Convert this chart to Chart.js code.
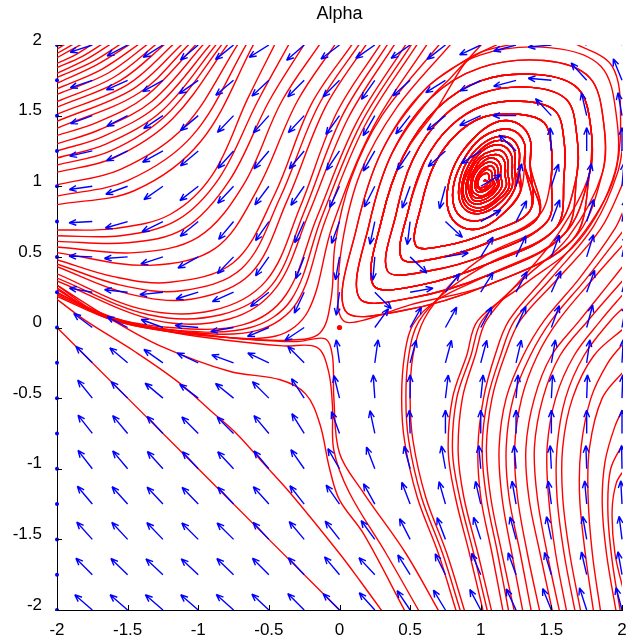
<!DOCTYPE html>
<html>
<head>
<meta charset="utf-8">
<script src="https://cdn.jsdelivr.net/npm/chart.js@4.4.0/dist/chart.umd.min.js"></script>
<style>
  html, body { margin: 0; padding: 0; background: #fff; }
  #wrap { width: 641px; height: 641px; }
</style>
</head>
<body>
<div id="wrap"><canvas id="phase" width="641" height="641"></canvas></div>
<script>
// phase portrait "Alpha": red streamlines + blue direction arrows

const tickVals = [-2, -1.5, -1, -0.5, 0, 0.5, 1, 1.5, 2];
const gridX = [-2, -1.75, -1.5, -1.25, -1, -0.75, -0.5, -0.25, 0, 0.25, 0.5, 0.75, 1, 1.25, 1.5, 1.75, 2];
const gridY = [2, 1.75, 1.5, 1.25, 1, 0.75, 0.5, 0.25, 0, -0.25, -0.5, -0.75, -1, -1.25, -1.5, -1.75, -2];

// arrow direction in degrees (0 = right, 90 = up), one row per gridY, null = dot
const arrowAngle = [
  [null,198,208,212,220,219,212,221,217,215,215,218,205,195,185,160,130],
  [null,199,204,209,215,220,223,225,225,235,222,212,207,195,175,132,112],
  [null,200,207,214,220,226,228,227,234,240,232,218,205,180,133,103,100],
  [null,193,205,209,220,228,230,230,236,240,236,222,213,137,93,90,90],
  [null,188,200,215,218,227,233,235,245,243,250,255,30,76,72,78,85],
  [null,183,196,206,219,230,235,246,250,258,263,317,30,63,69,72,80],
  [null,178,184,198,209,226,235,249,260,265,316,10,58,65,70,73,78],
  [null,170,174,186,197,204,218,245,262,315,10,53,58,62,66,70,75],
  [null,143,152,160,175,190,203,214,null,54,61,61,62,65,70,75,80],
  [null,135,140,145,155,160,155,135,98,82,75,75,75,77,80,82,87],
  [null,129,135,140,143,141,135,123,104,94,90,83,84,85,87,88,88],
  [null,128,130,133,135,135,130,122,110,102,92,90,90,90,90,90,90],
  [null,128,130,132,133,133,130,125,120,111,105,100,95,95,93,92,91],
  [null,130,132,133,134,133,132,128,125,119,111,106,103,100,98,95,93],
  [null,132,133,134,135,135,133,130,128,126,117,111,108,105,102,100,97],
  [null,135,136,137,137,136,135,133,130,133,122,116,113,110,107,103,100],
  [null,139,139,139,139,138,137,135,135,132,124,121,118,115,112,108,105]
];

const fixedPoints = [[0, 0]];

// top-left family: from the top edge to the left edge
const topLeftLines = [
  [[-1.92,2.02],[-2,1.97]],
  [[-1.86,2.02],[-2,1.94]],
  [[-1.8,2.02],[-2,1.91]],
  [[-1.73,2.02],[-1.87,1.93],[-2,1.87]],
  [[-1.66,2.02],[-1.82,1.92],[-2,1.84]],
  [[-1.6,2.02],[-1.79,1.9],[-2,1.8]],
  [[-1.53,2.02],[-1.75,1.88],[-2,1.77]],
  [[-1.46,2.02],[-1.72,1.86],[-2,1.73]],
  [[-1.4,2.02],[-1.68,1.83],[-2,1.69]],
  [[-1.34,2.02],[-1.64,1.8],[-2,1.65]],
  [[-1.28,2.02],[-1.6,1.77],[-2,1.6]],
  [[-1.22,2.02],[-1.55,1.75],[-2,1.56]],
  [[-1.16,2.02],[-1.5,1.72],[-2,1.51]],
  [[-1.1,2.02],[-1.46,1.69],[-2,1.46]],
  [[-1.05,2.02],[-1.42,1.66],[-2,1.41]],
  [[-1.0,2.02],[-1.38,1.63],[-1.72,1.45],[-2,1.36]],
  [[-0.95,2.02],[-1.33,1.6],[-1.7,1.4],[-2,1.3]],
  [[-0.9,2.02],[-1.29,1.57],[-1.68,1.35],[-2,1.25]],
  [[-0.86,2.02],[-1.25,1.54],[-1.65,1.3],[-2,1.2]],
  [[-0.82,2.02],[-1.22,1.51],[-1.62,1.25],[-2,1.15]],
  [[-0.78,2.02],[-1.18,1.48],[-1.6,1.2],[-2,1.1]],
  [[-0.71,2.02],[-1.1,1.42],[-1.55,1.12],[-2,1.01]],
  [[-0.65,2.02],[-1.04,1.36],[-1.5,1.04],[-2,0.93]],
  [[-0.6,2.02],[-0.98,1.32],[-1.45,0.97],[-2,0.87]]
];

// diagonal band: from the top edge down past the saddle, out to the left
const bandLines = [
  [[-0.45,2.02],[-0.65,1.62],[-0.9,1.08],[-1.2,0.8],[-1.6,0.7],[-2,0.69]],
  [[-0.35,2.02],[-0.58,1.6],[-0.85,1.06],[-1.15,0.76],[-1.55,0.65],[-2,0.65]],
  [[-0.24,2.02],[-0.5,1.6],[-0.78,1.04],[-1.1,0.7],[-1.5,0.6],[-2,0.61]],
  [[-0.13,2.02],[-0.41,1.6],[-0.68,1.01],[-1.0,0.64],[-1.45,0.53],[-2,0.57]],
  [[-0.02,2.02],[-0.3,1.6],[-0.58,0.98],[-0.88,0.56],[-1.35,0.44],[-2,0.53]],
  [[0.1,2.02],[-0.2,1.58],[-0.46,0.94],[-0.75,0.46],[-1.2,0.32],[-1.6,0.36],[-2,0.48]],
  [[0.15,2.02],[-0.15,1.57],[-0.42,0.92],[-0.69,0.42],[-1.12,0.26],[-1.55,0.3],[-2,0.45]],
  [[0.2,2.02],[-0.1,1.56],[-0.37,0.9],[-0.63,0.38],[-1.05,0.2],[-1.5,0.24],[-2,0.43]],
  [[0.3,2.02],[-0.02,1.52],[-0.28,0.85],[-0.52,0.33],[-0.9,0.12],[-1.4,0.13],[-2,0.38]],
  [[0.35,2.02],[0.02,1.5],[-0.25,0.82],[-0.48,0.3],[-0.84,0.09],[-1.35,0.09],[-2,0.35]],
  [[0.4,2.02],[0.06,1.48],[-0.22,0.8],[-0.45,0.28],[-0.78,0.06],[-1.3,0.05],[-2,0.33]],
  [[0.48,2.02],[0.12,1.45],[-0.16,0.78],[-0.38,0.23],[-0.68,0.02],[-1.2,0.0],[-1.7,0.1],[-2,0.3]],
  [[0.52,2.02],[0.15,1.44],[-0.13,0.77],[-0.34,0.2],[-0.63,0.0],[-1.15,-0.02],[-1.68,0.08],[-2,0.28]],
  [[0.56,2.02],[0.18,1.43],[-0.1,0.76],[-0.3,0.18],[-0.58,-0.02],[-1.1,-0.03],[-1.65,0.07],[-2,0.27]],
  [[0.63,2.02],[0.24,1.42],[-0.05,0.72],[-0.22,0.12],[-0.45,-0.06],[-1.0,-0.05],[-1.6,0.05],[-2,0.25]],
  [[0.72,2.02],[0.3,1.5],[0.08,1.05],[-0.03,0.6],[-0.06,0.2],[-0.14,-0.04],[-0.37,-0.09],[-0.8,-0.07],[-1.2,-0.03],[-1.6,0.05],[-2,0.22]]
];

// from the bottom edge, turning left near the saddle
const lowerLeftLines = [
  [[0,-2],[-1,-1],[-2,0]],
  [[0.31,-2.02],[0.15,-1.8],[0,-1.6],[-0.35,-1.17],[-0.54,-0.96],[-0.73,-0.75],[-0.9,-0.6],[-1.15,-0.38],[-1.45,-0.17],[-1.8,0.05],[-2,0.2]],
  [[0.47,-2.02],[0.17,-1.46],[0.0,-1.22],[-0.07,-1.0],[-0.14,-0.68],[-0.24,-0.47],[-0.42,-0.37],[-0.78,-0.31],[-1.27,-0.13],[-1.62,0.06],[-2,0.3]],
  [[0.57,-2.02],[0.33,-1.6],[0.07,-1.17],[-0.04,-0.87],[-0.05,-0.55],[-0.08,-0.3],[-0.16,-0.14],[-0.4,-0.13],[-0.8,-0.09],[-1.2,-0.03],[-1.6,0.07],[-2,0.24]],
  [[0.71,-2.02],[0.47,-1.6],[0.17,-1.17],[0.0,-0.89],[-0.04,-0.5],[-0.05,-0.2],[-0.1,-0.08],[-0.3,-0.1],[-0.7,-0.08],[-1.1,-0.03],[-1.6,0.06],[-2,0.23]]
];

// from the bottom edge, up the right side and out of the frame
const rightLines = [
  [[1.16,-2.02],[1.08,-1.6],[1.0,-1.2],[0.98,-0.85],[1.02,-0.5],[1.1,-0.2],[1.2,0.05],[1.45,0.35],[1.75,0.7],[1.94,1.05],[1.99,1.45],[1.93,1.85],[1.65,2.02]],
  [[1.2,-2.02],[1.12,-1.6],[1.04,-1.2],[1.01,-0.85],[1.05,-0.5],[1.14,-0.2],[1.24,0.05],[1.5,0.35],[1.8,0.72],[1.97,1.1],[2.02,1.4]],
  [[1.24,-2.02],[1.15,-1.6],[1.07,-1.2],[1.04,-0.85],[1.08,-0.5],[1.17,-0.2],[1.28,0.05],[1.55,0.35],[1.85,0.7],[2.02,1.05]],
  [[1.3,-2.02],[1.22,-1.6],[1.15,-1.2],[1.13,-0.85],[1.18,-0.5],[1.3,-0.2],[1.45,0.05],[1.7,0.35],[1.95,0.7],[2.02,0.85]],
  [[1.36,-2.02],[1.28,-1.6],[1.2,-1.2],[1.18,-0.85],[1.23,-0.5],[1.35,-0.2],[1.5,0.05],[1.75,0.35],[2.02,0.7]],
  [[1.42,-2.02],[1.33,-1.6],[1.26,-1.2],[1.24,-0.85],[1.29,-0.5],[1.4,-0.2],[1.55,0.05],[1.8,0.35],[2.02,0.6]],
  [[1.51,-2.02],[1.42,-1.6],[1.34,-1.2],[1.32,-0.85],[1.38,-0.5],[1.5,-0.2],[1.7,0.05],[1.9,0.3],[2.02,0.45]],
  [[1.56,-2.02],[1.47,-1.6],[1.4,-1.2],[1.38,-0.85],[1.44,-0.5],[1.56,-0.2],[1.76,0.05],[2.02,0.35]],
  [[1.61,-2.02],[1.53,-1.6],[1.48,-1.2],[1.47,-0.85],[1.53,-0.5],[1.66,-0.2],[1.85,0.05],[2.02,0.25]],
  [[1.67,-2.02],[1.59,-1.6],[1.54,-1.2],[1.54,-0.85],[1.6,-0.5],[1.73,-0.2],[1.92,0.05],[2.02,0.15]],
  [[1.71,-2.02],[1.63,-1.6],[1.58,-1.2],[1.58,-0.85],[1.65,-0.5],[1.8,-0.2],[2.02,0.0]],
  [[1.8,-2.02],[1.74,-1.6],[1.7,-1.2],[1.71,-0.85],[1.78,-0.5],[1.9,-0.25],[2.02,-0.1]],
  [[1.85,-2.02],[1.79,-1.6],[1.76,-1.2],[1.77,-0.85],[1.86,-0.5],[2.02,-0.3]],
  [[1.96,-2.02],[1.89,-1.6],[1.86,-1.25],[1.88,-0.95],[1.95,-0.7],[2.02,-0.55]],
  [[1.99,-2.02],[1.93,-1.65],[1.9,-1.3],[1.92,-1.0],[2.02,-0.8]],
  [[2.02,-1.9],[1.95,-1.6],[1.93,-1.3],[1.96,-1.1],[2.02,-1.0]]
];

// loops around the focus near (1,1), outer to inner, counter-clockwise from the right side
const ring1 = [[1.95,1.1],[1.96,1.5],[1.85,1.85],[1.5,1.98],[1.0,1.93],[0.6,1.68],[0.3,1.25],[0.12,0.7],[0.04,0.12],[0.45,0.12],[1.05,0.3],[1.65,0.62]];
const ring2 = [[1.86,1.09],[1.87,1.45],[1.77,1.77],[1.45,1.89],[1.0,1.84],[0.64,1.62],[0.37,1.23],[0.21,0.73],[0.14,0.21],[0.51,0.21],[1.05,0.37],[1.59,0.66]];
const ring3 = [[1.77,1.09],[1.78,1.41],[1.69,1.69],[1.41,1.79],[1.01,1.75],[0.69,1.55],[0.45,1.21],[0.3,0.77],[0.24,0.3],[0.57,0.3],[1.05,0.45],[1.53,0.7]];
const ring4 = [[1.68,1.08],[1.68,1.36],[1.61,1.61],[1.36,1.7],[1.01,1.66],[0.73,1.49],[0.52,1.19],[0.4,0.8],[0.34,0.4],[0.63,0.4],[1.05,0.52],[1.47,0.75]];
const ring5 = [[1.59,1.08],[1.59,1.32],[1.53,1.53],[1.32,1.6],[1.02,1.57],[0.78,1.42],[0.6,1.17],[0.49,0.84],[0.44,0.49],[0.69,0.49],[1.05,0.6],[1.41,0.79]];
const ring6 = [[1.5,1.07],[1.5,1.27],[1.45,1.45],[1.27,1.51],[1.02,1.49],[0.82,1.36],[0.67,1.15],[0.58,0.87],[0.54,0.58],[0.75,0.58],[1.05,0.67],[1.35,0.83]];
const ring7 = [[1.35,1.15],[1.35,1.33],[1.27,1.44],[1.13,1.46],[0.98,1.37],[0.84,1.2],[0.77,1.01],[0.77,0.83],[0.85,0.72],[0.99,0.7],[1.14,0.79],[1.28,0.96]];
const ring7b = [[1.31,1.15],[1.31,1.3],[1.24,1.39],[1.13,1.4],[0.99,1.33],[0.88,1.19],[0.81,1.02],[0.81,0.86],[0.88,0.77],[1.0,0.76],[1.13,0.83],[1.24,0.98]];
// the dense core of the focus
const ringA = [[1.27,1.13],[1.27,1.26],[1.21,1.34],[1.11,1.35],[1.0,1.29],[0.9,1.17],[0.85,1.03],[0.85,0.9],[0.91,0.82],[1.01,0.81],[1.12,0.87],[1.22,0.99]];
const ringB = [[1.24,1.12],[1.24,1.24],[1.19,1.31],[1.1,1.32],[1.0,1.26],[0.92,1.16],[0.87,1.03],[0.87,0.91],[0.92,0.84],[1.01,0.83],[1.11,0.89],[1.2,0.99]];
const ringC = [[1.22,1.11],[1.22,1.21],[1.17,1.28],[1.09,1.29],[1.0,1.24],[0.93,1.14],[0.88,1.03],[0.88,0.93],[0.93,0.86],[1.01,0.85],[1.1,0.9],[1.18,1.0]];
const ringD = [[1.19,1.1],[1.19,1.19],[1.15,1.25],[1.08,1.25],[1.0,1.21],[0.94,1.13],[0.9,1.03],[0.9,0.94],[0.94,0.88],[1.01,0.88],[1.09,0.92],[1.15,1.0]];
const ringE = [[1.17,1.09],[1.17,1.17],[1.13,1.22],[1.07,1.22],[1.0,1.19],[0.95,1.11],[0.91,1.03],[0.92,0.95],[0.95,0.9],[1.01,0.9],[1.08,0.94],[1.13,1.01]];
const ringF = [[1.14,1.08],[1.14,1.15],[1.11,1.19],[1.06,1.2],[1.0,1.16],[0.95,1.1],[0.93,1.03],[0.93,0.96],[0.96,0.92],[1.01,0.92],[1.07,0.95],[1.12,1.01]];
const ringG = [[1.12,1.07],[1.12,1.13],[1.1,1.16],[1.05,1.17],[1.0,1.14],[0.96,1.09],[0.94,1.03],[0.94,0.97],[0.97,0.94],[1.01,0.93],[1.06,0.96],[1.1,1.01]];
const ringH = [[1.1,1.07],[1.1,1.11],[1.08,1.14],[1.05,1.14],[1.01,1.12],[0.98,1.08],[0.96,1.03],[0.96,0.99],[0.98,0.96],[1.01,0.96],[1.05,0.98],[1.09,1.02]];
const ringI = [[1.08,1.06],[1.08,1.09],[1.07,1.11],[1.04,1.12],[1.01,1.1],[0.98,1.07],[0.97,1.03],[0.97,1.0],[0.99,0.98],[1.01,0.97],[1.04,0.99],[1.07,1.02]];
const ringJ = [[1.06,1.05],[1.06,1.07],[1.05,1.09],[1.03,1.09],[1.01,1.08],[0.99,1.06],[0.98,1.03],[0.98,1.01],[0.99,0.99],[1.01,0.99],[1.03,1.0],[1.05,1.02]];
const eye = [[1.04,1.04],[1.02,1.04]];

// entry paths that feed into the loops
const leadRA1 = [[0.83,-2.02],[0.7,-1.6],[0.55,-1.2],[0.46,-0.8],[0.44,-0.5],[0.46,-0.2],[0.52,0.02],[0.7,0.2]];
const leadRA2 = [[0.86,-2.02],[0.73,-1.6],[0.58,-1.2],[0.49,-0.8],[0.47,-0.5],[0.49,-0.2],[0.56,0.04],[0.76,0.26]];
const leadRA3 = [[0.89,-2.02],[0.76,-1.6],[0.61,-1.2],[0.52,-0.8],[0.5,-0.5],[0.52,-0.2],[0.6,0.06],[0.8,0.32]];
const leadG1a = [[1.02,-2.02],[0.92,-1.6],[0.82,-1.2],[0.77,-0.88],[0.8,-0.5],[0.9,-0.2],[0.98,0.05],[1.3,0.3],[1.7,0.62]];
const leadG1b = [[1.05,-2.02],[0.95,-1.6],[0.85,-1.2],[0.8,-0.88],[0.83,-0.5],[0.93,-0.2],[1.01,0.05],[1.3,0.34],[1.62,0.64]];
const leadG1c = [[1.08,-2.02],[0.98,-1.6],[0.88,-1.2],[0.84,-0.88],[0.87,-0.5],[0.96,-0.2],[1.04,0.05],[1.32,0.38],[1.56,0.68]];
const leadSMR = [[0.8,2.02],[0.4,1.55],[0.15,1.1],[0.02,0.6],[-0.01,0.15],[0.04,0.04],[0.2,0.06],[0.5,0.16]];
const leadLT1 = [[1.3,2.02],[1.0,1.95],[0.78,1.82]];
const leadLT2 = [[1.15,2.02],[0.92,1.9],[0.78,1.76]];
const leadLT3 = [[1.02,2.02],[0.88,1.86],[0.78,1.7]];

const join = (...parts) => parts.flat();
const coreOdd = join(ringA, ringC, ringE, ringG, ringI, eye);
const coreEven = join(ringB, ringD, ringF, ringH, ringJ, eye);

const spiralLines = [
  join(leadRA1, ring2.slice(10), ring4, ring6, ring7, coreOdd),
  join(leadRA2, ring3.slice(10), ring5, ring7b, coreEven),
  join(leadRA3, ring4.slice(10), ring6, ring7b, coreOdd),
  join(leadSMR, ring1.slice(10), ring2, ring4, ring6, ring7, coreEven),
  join(leadG1a, ring1, ring3, ring5, ring7, coreOdd),
  join(leadG1b, ring2, ring3, ring5, ring7b, coreEven),
  join(leadG1c, ring3, ring4, ring6, ring7, coreEven),
  join(leadLT1, ring1.slice(5), ring3, ring5, ring7b, coreOdd),
  join(leadLT2, ring2.slice(5), ring3, ring4, ring6, ring7, coreOdd),
  join(leadLT3, ring3.slice(5), ring5, ring6, ring7b, coreEven),
  join(ring5.slice(6), ring7, coreEven),
  join(ring6.slice(3), ring7b, coreOdd),
  join(ring7.slice(4), ring7b, coreEven)
];

const streamLines = [...topLeftLines, ...bandLines, ...lowerLeftLines, ...rightLines, ...spiralLines];

const datasets = streamLines.map((line) => ({
  data: line.map(([x, y]) => ({ x, y })),
  showLine: true,
  borderColor: "#ff0000",
  borderWidth: 1.4,
  pointRadius: 0,
  tension: 0.35,
  fill: false,
}));

const quiverPlugin = {
  id: "quiver",
  afterDatasetsDraw(chart) {
    const { ctx, chartArea, scales: { x, y } } = chart;
    const len = 0.165; // arrow length in axis units
    ctx.save();
    ctx.beginPath();
    ctx.rect(chartArea.left - 3, chartArea.top, chartArea.right - chartArea.left + 4, chartArea.bottom - chartArea.top + 1);
    ctx.clip();
    ctx.strokeStyle = "#0000ff";
    ctx.fillStyle = "#0000ff";
    ctx.lineWidth = 1.4;
    gridY.forEach((gy, row) => {
      gridX.forEach((gx, col) => {
        const a = arrowAngle[row][col];
        const px = x.getPixelForValue(gx);
        const py = y.getPixelForValue(gy);
        if (a === null) {
          if (gx === 0 && gy === 0) return;
          ctx.beginPath();
          ctx.arc(px, py, 2, 0, Math.PI * 2);
          ctx.fill();
          return;
        }
        const rad = (a * Math.PI) / 180;
        const hx = x.getPixelForValue(gx + len * Math.cos(rad));
        const hy = y.getPixelForValue(gy + len * Math.sin(rad));
        const dx = hx - px;
        const dy = hy - py;
        const d = Math.hypot(dx, dy);
        const ux = dx / d;
        const uy = dy / d;
        const hl = d * 0.33;
        const spread = (22 * Math.PI) / 180;
        ctx.beginPath();
        ctx.moveTo(px, py);
        ctx.lineTo(hx, hy);
        for (const s of [spread, -spread]) {
          const c = Math.cos(s);
          const sn = Math.sin(s);
          const bx = -(ux * c - uy * sn);
          const by = -(ux * sn + uy * c);
          ctx.moveTo(hx, hy);
          ctx.lineTo(hx + bx * hl, hy + by * hl);
        }
        ctx.stroke();
      });
    });
    ctx.restore();
  },
  afterDraw(chart) {
    const { ctx, chartArea, scales: { x, y } } = chart;
    ctx.save();
    // fixed point
    ctx.fillStyle = "#ff0000";
    for (const [fx, fy] of fixedPoints) {
      ctx.beginPath();
      ctx.arc(x.getPixelForValue(fx), y.getPixelForValue(fy), 2.6, 0, Math.PI * 2);
      ctx.fill();
    }
    // inward tick marks
    ctx.strokeStyle = "#000";
    ctx.lineWidth = 1;
    ctx.beginPath();
    for (const v of tickVals) {
      const py = Math.round(y.getPixelForValue(v)) + 0.5;
      ctx.moveTo(chartArea.left, py);
      ctx.lineTo(chartArea.left + 5, py);
      const px = Math.round(x.getPixelForValue(v)) + 0.5;
      ctx.moveTo(px, chartArea.bottom);
      ctx.lineTo(px, chartArea.bottom - 5);
    }
    ctx.stroke();
    // title
    ctx.fillStyle = "#000";
    ctx.font = '18px "Liberation Sans", Arial, sans-serif';
    ctx.textAlign = "center";
    ctx.textBaseline = "middle";
    ctx.fillText("Alpha", (chartArea.left + chartArea.right) / 2, 14);
    ctx.restore();
  },
};

const tickFont = { family: '"Liberation Sans", Arial, sans-serif', size: 17 };

new Chart(document.getElementById("phase"), {
  type: "scatter",
  data: { datasets },
  options: {
    responsive: false,
    animation: false,
    events: [],
    devicePixelRatio: 1,
    layout: { padding: { top: 45, right: 19, left: 0, bottom: 0 } },
    plugins: { legend: { display: false }, tooltip: { enabled: false } },
    scales: {
      x: {
        type: "linear",
        min: -2,
        max: 2,
        ticks: { stepSize: 0.5, color: "#000", font: tickFont, padding: 2, maxRotation: 0, callback: (v) => String(v) },
        grid: { display: false },
        border: { display: true, color: "#000", width: 1 },
        afterFit: (s) => { s.height = 31; },
      },
      y: {
        type: "linear",
        min: -2,
        max: 2,
        ticks: { stepSize: 0.5, color: "#000", font: tickFont, padding: 7, labelOffset: -5, callback: (v) => String(v) },
        grid: { display: false },
        border: { display: true, color: "#000", width: 1 },
        afterFit: (s) => { s.width = 57; },
      },
    },
  },
  plugins: [quiverPlugin],
});
</script>
</body>
</html>
